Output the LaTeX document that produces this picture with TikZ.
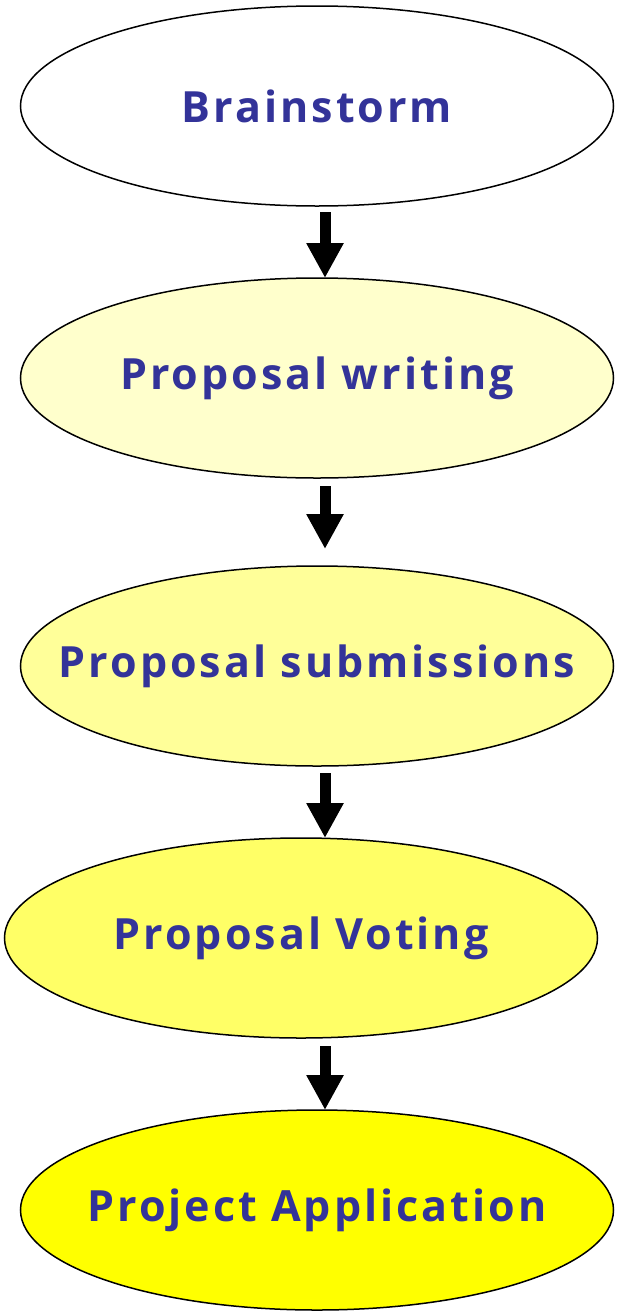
\documentclass[tikz,border=0pt]{standalone}
\usepackage{fontspec}
\setmainfont{Open Sans}[LetterSpace=7]
\usetikzlibrary{shapes.geometric,arrows.meta}
\definecolor{txtblue}{HTML}{333399}
\definecolor{fillA}{HTML}{FFFFCC}
\definecolor{fillB}{HTML}{FFFF99}
\definecolor{fillC}{HTML}{FFFF66}
\definecolor{fillD}{HTML}{FFFF00}
\tikzset{
  stage/.style={ellipse, draw=black, line width=1.5pt, minimum width=593pt, minimum height=200pt,
    inner sep=0pt, outer sep=0pt},
  lbl/.style={inner sep=0pt, text=txtblue, font=\fontsize{43}{50}\selectfont\bfseries},
  arr/.style={line width=11pt, -{Triangle[width=35pt,length=35pt]}}
}
\begin{document}
\begin{tikzpicture}[x=1pt,y=-1pt]
\useasboundingbox (0,0) rectangle (616,1312);
\node[stage, fill=white] (e1) at (317,106) {};
\node[stage, fill=fillA] (e2) at (317,378) {};
\node[stage, fill=fillB] (e3) at (317,666) {};
\node[stage, fill=fillC] (e4) at (301,938) {};
\node[stage, fill=fillD] (e5) at (317,1210) {};
\node[lbl] (t1) at (e1) {Brainstorm};
\node[lbl] (t2) at (e2) {Proposal writing};
\node[lbl] (t3) at (e3) {Proposal submissions};
\node[lbl] (t4) at (e4) {Proposal Voting};
\node[lbl] (t5) at (e5) {Project Application};
\draw[arr] ([xshift=8pt,yshift=-6pt]e1.south) -- ([xshift=8pt]e2.north);
\draw[arr] ([xshift=8pt,yshift=-8pt]e2.south) -- ([xshift=8pt,yshift=17pt]e3.north);
\draw[arr] ([xshift=8pt,yshift=-7pt]e3.south) -- ([xshift=24pt]e4.north);
\draw[arr] ([xshift=24pt,yshift=-8pt]e4.south) -- ([xshift=8pt]e5.north);
\end{tikzpicture}
\end{document}
